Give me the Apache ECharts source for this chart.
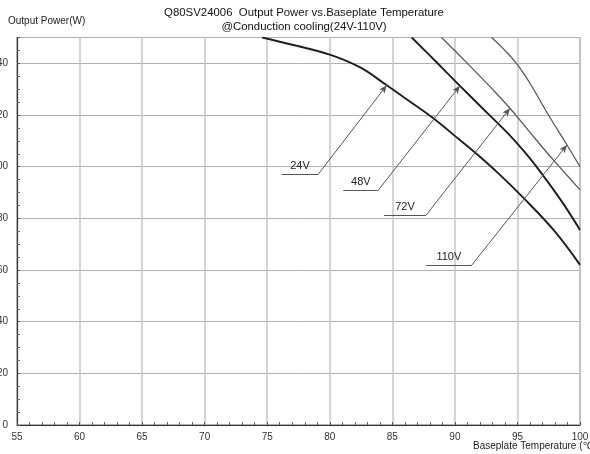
<!DOCTYPE html>
<html>
<head>
<meta charset="utf-8">
<title>Q80SV24006 Output Power vs. Baseplate Temperature</title>
<script src="https://cdn.jsdelivr.net/npm/echarts@6/dist/echarts.min.js"></script>
<style>
  html, body { margin: 0; padding: 0; background: #fff; }
  #chart { width: 590px; height: 454px; }
</style>
</head>
<body>
<div id="chart"></div>
<script>
// Derating curves: [baseplate temperature (°C), output power (W)]
const curve24V = [[74.6, 150], [77, 147.2], [80, 143.4], [82.4, 138.5], [84.55, 131.5], [86.4, 125.2],
                  [88.25, 118.8], [90.4, 110.3], [91.75, 104.9], [93.5, 97.3], [95.5, 87.8], [97.9, 75.4], [100, 62]];
const curve48V = [[86.55, 150], [88.5, 140.6], [90.4, 131.3], [92, 123.6], [93.6, 116.0], [94.8, 110.0],
                  [96, 103.2], [97.35, 94.6], [98.7, 85.4], [100, 75.5]];
const curve72V = [[88.93, 150], [91, 140], [93, 130], [94.4, 122.6], [96, 113.3], [97.4, 105.2], [98.7, 98.1], [100, 91]];
const curve110V = [[92.94, 150], [94, 145], [95, 139.5], [96, 132.3], [97.48, 120], [98.96, 108.4], [100, 100]];

const seriesNames = ['24V', '48V', '72V', '110V'];
const seriesData = [curve24V, curve48V, curve72V, curve110V];

// Axis ranges and ticks
const xMin = 55, xMax = 100, xStep = 5;
const yMin = 0, yMax = 150, yStep = 20;

// Callouts: which curve point each arrow points at, and where its underlined label sits
const calloutTipIndex = [4, 2, 3, 5];
const calloutStartX = [76.16, 81.08, 84.34, 87.69];
const calloutEndX = [79.08, 83.88, 87.69, 91.35];
const calloutY = [97.1, 90.9, 81.2, 61.9];

// Line appearance per curve
const lineColors = ['#1e1e1e', '#1e1e1e', '#5a5a5a', '#5a5a5a'];
const lineWidths = [1.9, 1.9, 1.3, 1.3];

const FONT = '"Liberation Sans", Arial, Helvetica, sans-serif';

function calloutLines(i) {
  const tip = seriesData[i][calloutTipIndex[i]];
  return [
    [
      { coord: [calloutStartX[i], calloutY[i]], name: seriesNames[i], symbol: 'none' },
      { coord: [calloutEndX[i], calloutY[i]], symbol: 'none' }
    ],
    [
      { coord: [calloutEndX[i], calloutY[i]], name: '', symbol: 'none', label: { show: false } },
      { coord: tip, symbol: 'arrow', symbolSize: [5, 8] }
    ]
  ];
}

const chart = echarts.init(document.getElementById('chart'), null, { renderer: 'canvas' });

chart.setOption({
  animation: false,
  backgroundColor: '#ffffff',
  textStyle: { fontFamily: FONT },
  title: {
    text: 'Q80SV24006  Output Power vs.Baseplate Temperature\n@Conduction cooling(24V-110V)',
    left: 299,
    top: 1,
    textAlign: 'center',
    textStyle: { fontSize: 11.4, fontWeight: 'normal', color: '#111', lineHeight: 14, fontFamily: FONT }
  },
  graphic: [
    {
      type: 'text', left: 8, top: 16,
      style: { text: 'Output Power(W)', fontSize: 10, fill: '#222', fontFamily: FONT }
    },
    {
      type: 'text', left: 473, top: 441,
      style: { text: 'Baseplate Temperature (℃)', fontSize: 10, fill: '#222', fontFamily: FONT }
    }
  ],
  grid: {
    left: 17, right: 10, top: 37.5, bottom: 29,
    containLabel: false,
    outerBoundsMode: 'none',
    show: true, borderColor: '#666', borderWidth: 1, backgroundColor: 'transparent'
  },
  xAxis: {
    type: 'value',
    min: xMin, max: xMax, interval: xStep,
    axisLine: { lineStyle: { color: '#333', width: 1.2 } },
    axisTick: { show: true, inside: true, length: 3, lineStyle: { color: '#555' } },
    minorTick: { show: true, splitNumber: 5, length: 3, lineStyle: { color: '#666' } },
    axisLabel: { color: '#333', fontSize: 10, margin: 7, fontFamily: FONT },
    splitLine: { show: true, lineStyle: { color: '#c6c6c6', width: 1.5 } }
  },
  yAxis: {
    type: 'value',
    min: yMin, max: yMax, interval: yStep,
    axisLine: { show: true, lineStyle: { color: '#333', width: 1.2 } },
    axisTick: { show: true, inside: true, length: 3, lineStyle: { color: '#555' } },
    minorTick: { show: true, splitNumber: 4, length: 3, lineStyle: { color: '#666' } },
    axisLabel: {
      color: '#333', fontSize: 10, margin: 9, fontFamily: FONT,
      formatter: v => (v % yStep === 0 ? String(v) : '')
    },
    splitLine: { show: true, lineStyle: { color: '#b0b0b0', width: 1 } }
  },
  series: seriesData.map((data, i) => ({
    type: 'line',
    name: seriesNames[i],
    data: data,
    smooth: 0.4,
    showSymbol: false,
    symbol: 'none',
    clip: true,
    lineStyle: { color: lineColors[i], width: lineWidths[i] },
    markLine: {
      silent: true,
      symbol: ['none', 'none'],
      lineStyle: { color: '#555', width: 1, type: 'solid' },
      label: {
        show: true,
        position: 'insideMiddleTop',
        formatter: '{b}',
        color: '#222',
        fontSize: 11,
        distance: 3,
        fontFamily: FONT
      },
      emphasis: { disabled: true },
      data: calloutLines(i)
    }
  }))
});
</script>
</body>
</html>
